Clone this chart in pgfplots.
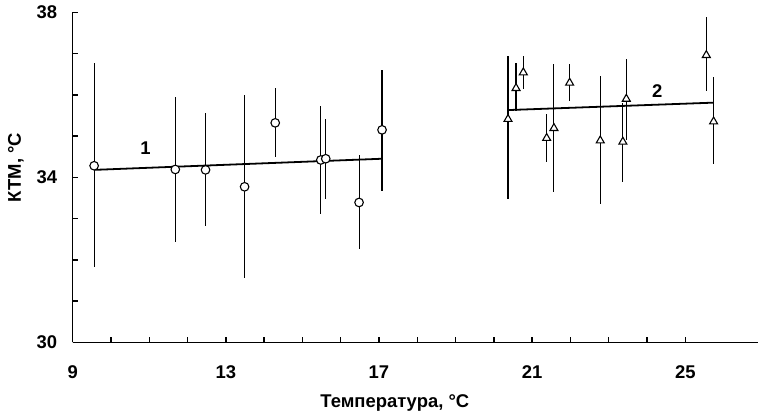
\documentclass[border=0pt]{standalone}
\usepackage{fontspec}
\setmainfont{Liberation Sans}
\usepackage{pgfplots}
\pgfplotsset{compat=1.18}
\newcommand{\lblfont}{\fontsize{18.5}{18.5}\selectfont\bfseries}

% x  y  err+  err-
\pgfplotstableread{
x y ep em
9.56 34.28 2.50 2.45
11.68 34.19 1.75 1.75
12.47 34.18 1.37 1.36
13.49 33.77 2.23 2.22
14.29 35.32 0.84 0.82
15.48 34.42 1.31 1.32
15.61 34.45 0.96 0.98
16.48 33.39 1.15 1.14
17.08 35.15 1.45 1.47
}\setA
\pgfplotstableread{
x y ep em
20.37 35.41 1.54 1.94
20.58 36.16 0.60 0.56
20.77 36.54 0.40 0.41
21.38 34.95 0.58 0.59
21.57 35.19 1.56 1.54
21.98 36.29 0.46 0.44
22.78 34.89 1.57 1.54
23.37 34.86 0.93 0.97
23.46 35.90 0.96 1.00
25.55 36.96 0.93 0.86
25.74 35.35 1.07 1.03
}\setB

\pgfplotsset{
  bars/.style={only marks, mark=none, forget plot,
    error bars/.cd, y dir=both, y explicit, error mark=none,
    error bar style={line width=1.1pt, black}},
}

\begin{document}
\begin{tikzpicture}
\begin{axis}[
  scale only axis, width=685.3bp, height=330bp,
  xmin=9, xmax=26.9, ymin=30, ymax=38,
  axis x line*=bottom, axis y line*=left,
  axis line style={line width=1.5pt, -},
  xtick={9,13,17,21,25}, ytick={30,34,38},
  minor x tick num=3, minor y tick num=3,
  tick align=inside,
  major tick length=5bp, minor tick length=5bp,
  every tick/.style={black, line width=1.5pt},
  /pgf/number format/assume math mode=true,
  tick label style={font=\lblfont},
  xticklabel style={yshift=-20bp},
  yticklabel style={xshift=-12bp},
  xlabel={Температура, °C}, ylabel={КТМ, °C},
  label style={font=\lblfont},
  xlabel style={at={(ticklabel cs:0.47)}, yshift=-9bp},
  ylabel style={at={(ticklabel cs:0.53)}, yshift=6bp},
  clip=false,
]
\addplot[bars] table[x=x, y=y, y error plus=ep, y error minus=em] {\setA};
\addplot[bars] table[x=x, y=y, y error plus=ep, y error minus=em] {\setB};
\addplot[black, line width=1.8pt, mark=none] coordinates {(9.56,34.18) (17.08,34.45)};
\addplot[black, line width=1.8pt, mark=none] coordinates {(20.37,35.63) (25.74,35.81)};
\addplot[only marks, mark=*, mark size=4.3bp, mark options={fill=white, draw=black, line width=1.1pt}]
  table[x=x, y=y] {\setA};
\addplot[only marks, mark=triangle*, mark size=4.6bp, mark options={fill=white, draw=black, line width=1.1pt}]
  table[x=x, y=y] {\setB};
\node[font=\lblfont] at (axis cs:10.9,34.71) {1};
\node[font=\lblfont] at (axis cs:24.27,36.1) {2};
\end{axis}
\pgfresetboundingbox
\path[use as bounding box] (-72.7bp,-75.7bp) rectangle (685.3bp,342.3bp);
\end{tikzpicture}
\end{document}
